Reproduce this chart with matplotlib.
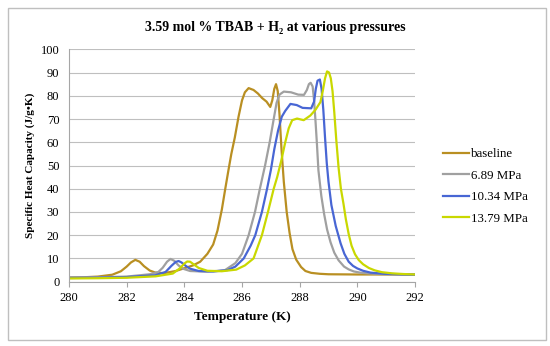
import matplotlib
matplotlib.use("Agg")
import matplotlib.pyplot as plt
from matplotlib.patches import Rectangle

# data
t_base = [280.0, 280.5, 281.0, 281.5, 281.8, 282.0, 282.15, 282.3, 282.45, 282.6, 282.8, 283.0,
          283.3, 283.7, 284.0, 284.3, 284.55, 284.8, 285.0, 285.15, 285.3, 285.42, 285.53, 285.63,
          285.75, 285.88, 286.0, 286.1, 286.23, 286.4, 286.55, 286.7, 286.85, 286.98, 287.05, 287.12,
          287.18, 287.24, 287.3, 287.37, 287.45, 287.55, 287.65, 287.75, 287.88, 288.05, 288.2, 288.4,
          288.7, 289.0, 290.0, 291.0, 292.0]
cp_base = [1.8, 1.9, 2.2, 3.0, 4.5, 6.5, 8.3, 9.4, 8.6, 6.7, 4.8, 3.9,
           3.7, 4.6, 5.8, 7.0, 8.6, 12, 16, 22, 31, 40, 48, 55,
           62, 71, 78, 81.5, 83.3, 82.5, 81, 79, 77.5, 75.2, 78, 83,
           85, 82, 72, 57, 43, 30, 21, 14, 9.5, 6.3, 4.6, 3.8,
           3.4, 3.2, 3.1, 3.1, 3.1]

t_689 = [280.0, 281.0, 282.0, 282.8, 283.1, 283.25, 283.4, 283.52, 283.65, 283.8, 283.95, 284.2,
         284.8, 285.4, 285.77, 286.0, 286.23, 286.45, 286.62, 286.8, 286.96, 287.1, 287.2, 287.3,
         287.45, 287.7, 287.95, 288.15, 288.25, 288.32, 288.38, 288.45, 288.5, 288.55, 288.6, 288.65,
         288.75, 288.85, 288.95, 289.07, 289.2, 289.35, 289.54, 289.7, 289.88, 290.1, 290.35, 291.0,
         292.0]
cp_689 = [1.8, 1.9, 2.2, 3.2, 4.2, 6.0, 8.6, 9.8, 9.0, 7.0, 5.6, 4.6,
          4.3, 4.9, 8.0, 12, 20, 30, 40, 50, 60, 70, 77, 80.5,
          81.8, 81.5, 80.5, 80.4, 82.5, 85, 85.6, 84, 78, 69, 59, 48,
          37, 29, 22.5, 17, 12.5, 9.2, 6.5, 5.3, 4.4, 3.9, 3.6, 3.2,
          3.0]

t_1034 = [280.0, 281.0, 282.0, 283.0, 283.35, 283.55, 283.7, 283.8, 283.9, 284.05, 284.2, 284.5,
          285.0, 285.5, 285.77, 286.06, 286.3, 286.46, 286.69, 286.87, 287.0, 287.12, 287.25, 287.38,
          287.5, 287.68, 287.9, 288.1, 288.4, 288.5, 288.56, 288.62, 288.7, 288.76, 288.82, 288.88,
          288.94, 289.0, 289.1, 289.25, 289.42, 289.55, 289.7, 289.85, 290.0, 290.2, 290.46, 290.93,
          292.0]
cp_1034 = [1.6, 1.7, 2.0, 2.8, 4.2, 6.8, 8.5, 8.9, 8.3, 6.8, 5.6, 4.6,
           4.4, 5.0, 6.5, 10, 15.5, 20, 30, 40, 48, 57, 65, 71,
           73.5, 76.5, 76, 74.8, 74.6, 77.5, 83, 86.5, 87, 83, 74, 62,
           51, 43, 33, 24, 16.5, 12, 8.6, 6.8, 5.7, 4.7, 3.9, 3.4,
           3.0]

t_1379 = [280.0, 281.0, 282.0, 283.0, 283.6, 283.85, 284.0, 284.1, 284.2, 284.32, 284.5, 284.8,
          285.3, 285.8, 286.1, 286.4, 286.69, 286.9, 287.1, 287.22, 287.36, 287.5, 287.62, 287.74,
          287.91, 288.14, 288.37, 288.55, 288.72, 288.8, 288.88, 288.95, 289.02, 289.08, 289.14, 289.2,
          289.27, 289.35, 289.43, 289.52, 289.6, 289.7, 289.8, 289.92, 290.05, 290.2, 290.4, 290.6,
          290.85, 291.2, 291.6, 292.0]
cp_1379 = [1.4, 1.5, 1.7, 2.3, 3.5, 5.8, 7.8, 8.7, 8.6, 7.5, 5.9, 4.7,
           4.5, 5.2, 7.0, 10, 20, 30, 40, 45, 52, 60, 66, 69.5,
           70.2, 69.5, 71.5, 74, 77.3, 82, 87.5, 90.5, 90, 87.5, 82, 73,
           61, 49, 40, 33.5, 27, 20.5, 15.5, 11.8, 9.3, 7.5, 5.9, 4.9,
           4.1, 3.6, 3.3, 3.1]

labels = ['baseline', '6.89 MPa', '10.34 MPa', '13.79 MPa']
colors = ['#B98F22', '#A0A0A0', '#4866D4', '#C9D800']

plt.rcParams['font.family'] = 'Liberation Serif'

fig = plt.figure(figsize=(5.5, 3.46), dpi=100)
ax = fig.add_axes([69 / 550, 1 - 281.7 / 346, (415 - 69) / 550, (281.7 - 49.3) / 346])

series = [(t_base, cp_base), (t_689, cp_689), (t_1034, cp_1034), (t_1379, cp_1379)]
for (t, cp), lab, c in zip(series, labels, colors):
    ax.plot(t, cp, color=c, lw=1.6, label=lab, solid_joinstyle='round')

ax.set_xlim(280, 292)
ax.set_ylim(0, 100)
ax.set_xticks(range(280, 293, 2))
ax.set_yticks(range(0, 101, 10))
ax.grid(True, axis='y', color='#BFBFBF', lw=0.8)
ax.set_axisbelow(True)
for s in ['top', 'right']:
    ax.spines[s].set_visible(False)
for s in ['left', 'bottom']:
    ax.spines[s].set_color('#A6A6A6')
    ax.spines[s].set_linewidth(0.8)
ax.tick_params(axis='x', length=3.5, color='#A6A6A6', pad=4, labelsize=9)
ax.tick_params(axis='y', length=0, pad=7, labelsize=9)

ax.set_xlabel('Temperature (K)', fontsize=9.5, fontweight='bold', labelpad=5)
ax.set_ylabel('Specific Heat Capacity (J/g•K)', fontsize=8, fontweight='bold', labelpad=4)
fig.text(0.5, 1 - 27.7 / 346, '3.59 mol % TBAB + H₂ at various pressures',
         ha='center', va='center', fontsize=10, fontweight='bold')

fig.legend(loc='center left', bbox_to_anchor=(443 / 550, 1 - 186.5 / 346), frameon=False,
           fontsize=9.3, handlelength=2.05, handletextpad=0.15, labelspacing=0.73,
           borderpad=0, borderaxespad=0)

fig.patches.append(Rectangle((8 / 550, 1 - 340 / 346), 538 / 550, 332 / 346,
                             transform=fig.transFigure, fill=False, ec='#BFBFBF', lw=1))

plt.savefig('out.png', dpi=100)
